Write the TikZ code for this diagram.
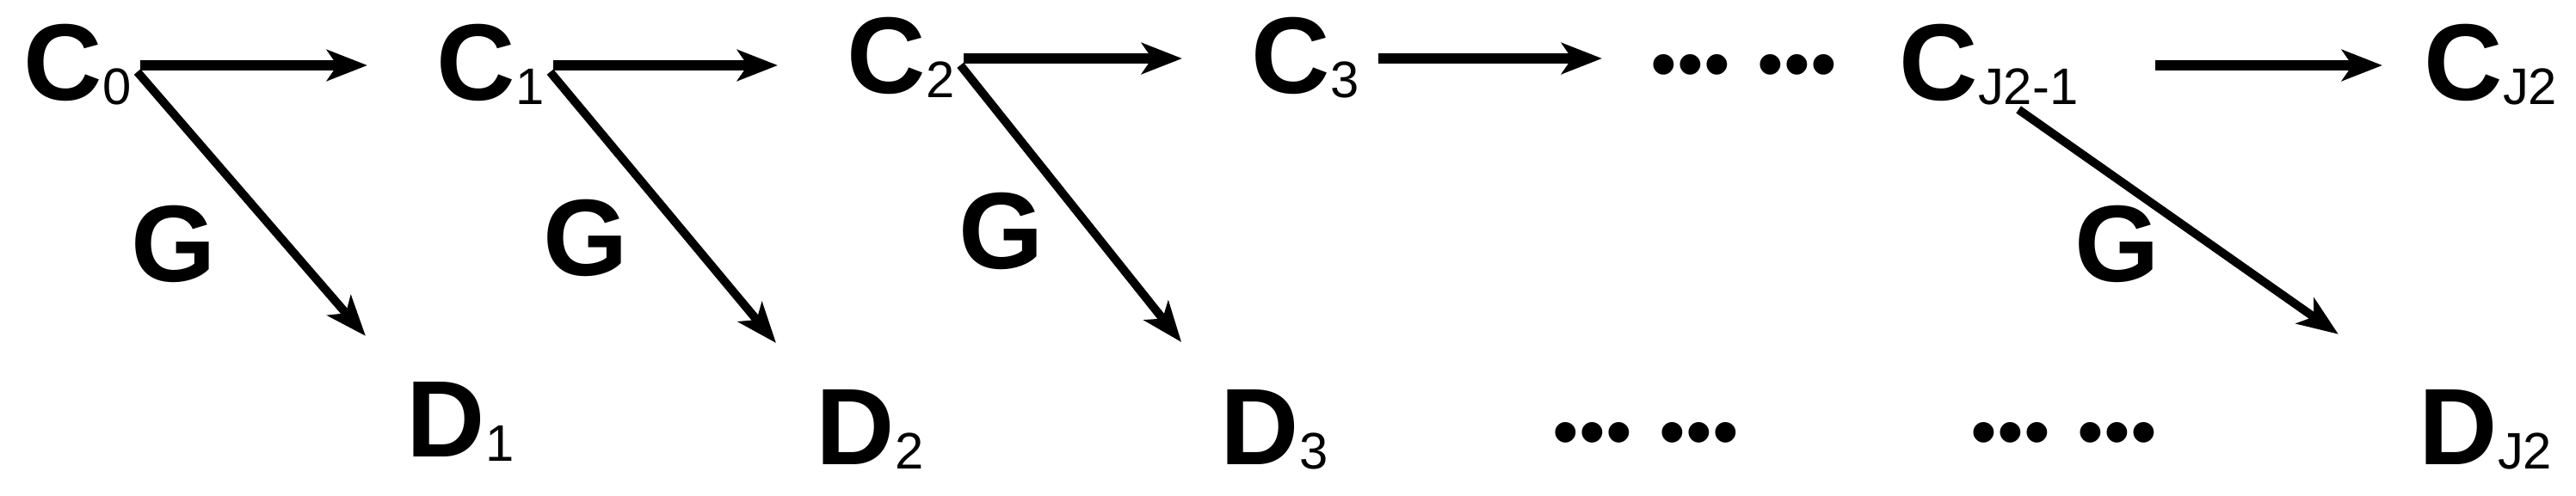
\documentclass[tikz,border=0pt]{standalone}
\usepackage{fontspec}
\setmainfont{Liberation Sans}
\usetikzlibrary{arrows.meta,positioning}

\newcommand{\sym}[2]{{\bfseries #1}{\fontsize{17}{17}\selectfont\raisebox{-0.05cm}{#2}}}
\newcommand{\gapdots}{•••\hspace{0.32cm}•••}

\begin{document}
\begin{tikzpicture}[
  state/.style={inner sep=0pt, anchor=base west, text height=0.85cm, text depth=0.05cm, font=\fontsize{36}{40}\selectfont},
  gap/.style={inner sep=0pt, anchor=base, font=\fontsize{25}{30}\selectfont},
  glabel/.style={inner sep=0pt, font=\fontsize{36}{40}\selectfont\bfseries},
  flow/.style={line width=3.2pt, -{Stealth[length=0.47cm, width=0.36cm, inset=0.12cm]}},
  gen/.style={line width=2.8pt, -{Stealth[length=0.47cm, width=0.36cm, inset=0.12cm]}}
]
  \useasboundingbox (0,0) rectangle (29.94,5.76);

  \foreach \n/\x/\y in {0/0.27/4.60, 1/5.07/4.60, 2/9.84/4.68, 3/14.54/4.68}
    \node[state] (c\n) at (\x,\y) {\sym{C}{\n}};
  \node[gap] (cdots) at (20.27,4.72) {\gapdots};
  \node[state] (cj1) at (22.07,4.60) {\sym{C}{J2-1}};
  \node[state] (cj) at (28.17,4.60) {\sym{C}{J2}};

  \foreach \n/\x/\y in {1/4.72/0.45, 2/9.48/0.36, 3/14.18/0.36}
    \node[state] (d\n) at (\x,\y) {\sym{D}{\n}};
  \node[gap] (ddots1) at (19.13,0.44) {\gapdots};
  \node[gap] (ddots2) at (23.99,0.44) {\gapdots};
  \node[state] (dj) at (28.11,0.36) {\sym{D}{J2}};

  \foreach \n/\x/\y in {1/2.02/2.92, 2/6.81/2.99, 3/11.64/3.07, j/24.61/2.92}
    \node[glabel] (g\n) at (\x,\y) {G};

  \foreach \a/\b in {c0/c1, c1/c2, c2/c3}
    \draw[flow, shorten <=0.1cm, shorten >=0.8cm] (\a.east) -- (\a.east -| \b.west);
  \draw[flow, shorten <=0.22cm, shorten >=0.56cm] (c3.east) -- (c3.east -| cdots.west);
  \draw[flow, shorten <=0.89cm, shorten >=0.48cm] (cj1.east) -- (cj.west);

  \foreach \a/\b in {c0/d1, c1/d2, c2/d3}
    \draw[gen, shorten <=0.1cm, shorten >=0.72cm] (\a.east) -- (\b.north west);
  \draw[gen, shorten <=0.1cm, shorten >=1.14cm] (cj1.-60) -- (dj.north west);
\end{tikzpicture}
\end{document}
